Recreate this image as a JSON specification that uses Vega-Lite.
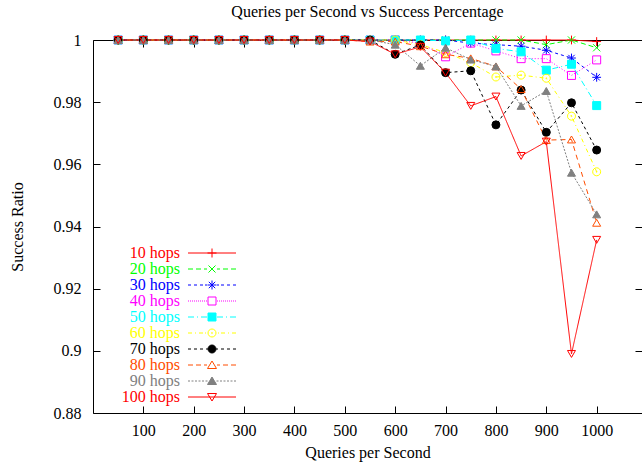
{
  "$schema": "https://vega.github.io/schema/vega-lite/v6.json",
  "width": 549,
  "height": 373,
  "autosize": {"type": "none"},
  "padding": {"left": 93, "top": 40, "right": 0, "bottom": 52},
  "background": "white",
  "config": {
    "view": {"stroke": "black", "strokeWidth": 1},
    "font": "Liberation Serif",
    "axis": {
      "domain": false, "grid": false, "ticks": true, "tickColor": "black", "tickSize": -7, "tickWidth": 1,
      "labelFont": "Liberation Serif", "labelFontSize": 16, "labelColor": "black",
      "titleFont": "Liberation Serif", "titleFontSize": 16, "titleFontWeight": "normal", "titleColor": "black"
    },
    "legend": {"labelFont": "Liberation Serif", "labelFontSize": 16}
  },
  "title": {"text": "Queries per Second vs Success Percentage", "font": "Liberation Serif", "fontSize": 16, "fontWeight": "normal", "color": "black", "anchor": "middle", "frame": "group", "baseline": "alphabetic", "offset": -1},
  "data": {"values": [
    {"q":50,"s":"10 hops","r":1},{"q":100,"s":"10 hops","r":1},{"q":150,"s":"10 hops","r":1},{"q":200,"s":"10 hops","r":1},{"q":250,"s":"10 hops","r":1},{"q":300,"s":"10 hops","r":1},{"q":350,"s":"10 hops","r":1},{"q":400,"s":"10 hops","r":1},{"q":450,"s":"10 hops","r":1},{"q":500,"s":"10 hops","r":1},{"q":550,"s":"10 hops","r":1},{"q":600,"s":"10 hops","r":1},{"q":650,"s":"10 hops","r":1},{"q":700,"s":"10 hops","r":1},{"q":750,"s":"10 hops","r":1},{"q":800,"s":"10 hops","r":1},{"q":850,"s":"10 hops","r":1},{"q":900,"s":"10 hops","r":1},{"q":950,"s":"10 hops","r":1},{"q":1000,"s":"10 hops","r":0.9995},
    {"q":50,"s":"20 hops","r":1},{"q":100,"s":"20 hops","r":1},{"q":150,"s":"20 hops","r":1},{"q":200,"s":"20 hops","r":1},{"q":250,"s":"20 hops","r":1},{"q":300,"s":"20 hops","r":1},{"q":350,"s":"20 hops","r":1},{"q":400,"s":"20 hops","r":1},{"q":450,"s":"20 hops","r":1},{"q":500,"s":"20 hops","r":1},{"q":550,"s":"20 hops","r":1},{"q":600,"s":"20 hops","r":1},{"q":650,"s":"20 hops","r":1},{"q":700,"s":"20 hops","r":1},{"q":750,"s":"20 hops","r":1},{"q":800,"s":"20 hops","r":1},{"q":850,"s":"20 hops","r":1},{"q":900,"s":"20 hops","r":0.9985},{"q":950,"s":"20 hops","r":1},{"q":1000,"s":"20 hops","r":0.9975},
    {"q":50,"s":"30 hops","r":1},{"q":100,"s":"30 hops","r":1},{"q":150,"s":"30 hops","r":1},{"q":200,"s":"30 hops","r":1},{"q":250,"s":"30 hops","r":1},{"q":300,"s":"30 hops","r":1},{"q":350,"s":"30 hops","r":1},{"q":400,"s":"30 hops","r":1},{"q":450,"s":"30 hops","r":1},{"q":500,"s":"30 hops","r":1},{"q":550,"s":"30 hops","r":1},{"q":600,"s":"30 hops","r":1},{"q":650,"s":"30 hops","r":1},{"q":700,"s":"30 hops","r":1},{"q":750,"s":"30 hops","r":0.999},{"q":800,"s":"30 hops","r":0.9985},{"q":850,"s":"30 hops","r":0.998},{"q":900,"s":"30 hops","r":0.9967},{"q":950,"s":"30 hops","r":0.9942},{"q":1000,"s":"30 hops","r":0.988},
    {"q":50,"s":"40 hops","r":1},{"q":100,"s":"40 hops","r":1},{"q":150,"s":"40 hops","r":1},{"q":200,"s":"40 hops","r":1},{"q":250,"s":"40 hops","r":1},{"q":300,"s":"40 hops","r":1},{"q":350,"s":"40 hops","r":1},{"q":400,"s":"40 hops","r":1},{"q":450,"s":"40 hops","r":1},{"q":500,"s":"40 hops","r":1},{"q":550,"s":"40 hops","r":1},{"q":600,"s":"40 hops","r":1},{"q":650,"s":"40 hops","r":0.999},{"q":700,"s":"40 hops","r":0.9946},{"q":750,"s":"40 hops","r":0.999},{"q":800,"s":"40 hops","r":0.9965},{"q":850,"s":"40 hops","r":0.994},{"q":900,"s":"40 hops","r":0.994},{"q":950,"s":"40 hops","r":0.9886},{"q":1000,"s":"40 hops","r":0.9936},
    {"q":50,"s":"50 hops","r":1},{"q":100,"s":"50 hops","r":1},{"q":150,"s":"50 hops","r":1},{"q":200,"s":"50 hops","r":1},{"q":250,"s":"50 hops","r":1},{"q":300,"s":"50 hops","r":1},{"q":350,"s":"50 hops","r":1},{"q":400,"s":"50 hops","r":1},{"q":450,"s":"50 hops","r":1},{"q":500,"s":"50 hops","r":1},{"q":550,"s":"50 hops","r":1},{"q":600,"s":"50 hops","r":1},{"q":650,"s":"50 hops","r":1},{"q":700,"s":"50 hops","r":0.9997},{"q":750,"s":"50 hops","r":1},{"q":800,"s":"50 hops","r":0.9973},{"q":850,"s":"50 hops","r":0.9962},{"q":900,"s":"50 hops","r":0.9903},{"q":950,"s":"50 hops","r":0.9922},{"q":1000,"s":"50 hops","r":0.9789},
    {"q":50,"s":"60 hops","r":1},{"q":100,"s":"60 hops","r":1},{"q":150,"s":"60 hops","r":1},{"q":200,"s":"60 hops","r":1},{"q":250,"s":"60 hops","r":1},{"q":300,"s":"60 hops","r":1},{"q":350,"s":"60 hops","r":1},{"q":400,"s":"60 hops","r":1},{"q":450,"s":"60 hops","r":1},{"q":500,"s":"60 hops","r":1},{"q":550,"s":"60 hops","r":1},{"q":600,"s":"60 hops","r":1},{"q":650,"s":"60 hops","r":0.9985},{"q":700,"s":"60 hops","r":0.996},{"q":750,"s":"60 hops","r":0.9927},{"q":800,"s":"60 hops","r":0.9881},{"q":850,"s":"60 hops","r":0.9887},{"q":900,"s":"60 hops","r":0.9877},{"q":950,"s":"60 hops","r":0.9755},{"q":1000,"s":"60 hops","r":0.9576},
    {"q":50,"s":"70 hops","r":1},{"q":100,"s":"70 hops","r":1},{"q":150,"s":"70 hops","r":1},{"q":200,"s":"70 hops","r":1},{"q":250,"s":"70 hops","r":1},{"q":300,"s":"70 hops","r":1},{"q":350,"s":"70 hops","r":1},{"q":400,"s":"70 hops","r":1},{"q":450,"s":"70 hops","r":1},{"q":500,"s":"70 hops","r":1},{"q":550,"s":"70 hops","r":1},{"q":600,"s":"70 hops","r":0.9954},{"q":650,"s":"70 hops","r":0.9984},{"q":700,"s":"70 hops","r":0.9895},{"q":750,"s":"70 hops","r":0.9901},{"q":800,"s":"70 hops","r":0.9727},{"q":850,"s":"70 hops","r":0.9839},{"q":900,"s":"70 hops","r":0.9703},{"q":950,"s":"70 hops","r":0.9798},{"q":1000,"s":"70 hops","r":0.9646},
    {"q":50,"s":"80 hops","r":1},{"q":100,"s":"80 hops","r":1},{"q":150,"s":"80 hops","r":1},{"q":200,"s":"80 hops","r":1},{"q":250,"s":"80 hops","r":1},{"q":300,"s":"80 hops","r":1},{"q":350,"s":"80 hops","r":1},{"q":400,"s":"80 hops","r":1},{"q":450,"s":"80 hops","r":1},{"q":500,"s":"80 hops","r":1},{"q":550,"s":"80 hops","r":0.9995},{"q":600,"s":"80 hops","r":0.9995},{"q":650,"s":"80 hops","r":0.998},{"q":700,"s":"80 hops","r":0.9954},{"q":750,"s":"80 hops","r":0.9941},{"q":800,"s":"80 hops","r":0.9915},{"q":850,"s":"80 hops","r":0.9842},{"q":900,"s":"80 hops","r":0.9678},{"q":950,"s":"80 hops","r":0.968},{"q":1000,"s":"80 hops","r":0.9412},
    {"q":50,"s":"90 hops","r":1},{"q":100,"s":"90 hops","r":1},{"q":150,"s":"90 hops","r":1},{"q":200,"s":"90 hops","r":1},{"q":250,"s":"90 hops","r":1},{"q":300,"s":"90 hops","r":1},{"q":350,"s":"90 hops","r":1},{"q":400,"s":"90 hops","r":1},{"q":450,"s":"90 hops","r":1},{"q":500,"s":"90 hops","r":1},{"q":550,"s":"90 hops","r":1},{"q":600,"s":"90 hops","r":0.9985},{"q":650,"s":"90 hops","r":0.9917},{"q":700,"s":"90 hops","r":0.9975},{"q":750,"s":"90 hops","r":0.9937},{"q":800,"s":"90 hops","r":0.9915},{"q":850,"s":"90 hops","r":0.9788},{"q":900,"s":"90 hops","r":0.9836},{"q":950,"s":"90 hops","r":0.9573},{"q":1000,"s":"90 hops","r":0.9439},
    {"q":50,"s":"100 hops","r":1},{"q":100,"s":"100 hops","r":1},{"q":150,"s":"100 hops","r":1},{"q":200,"s":"100 hops","r":1},{"q":250,"s":"100 hops","r":1},{"q":300,"s":"100 hops","r":1},{"q":350,"s":"100 hops","r":1},{"q":400,"s":"100 hops","r":1},{"q":450,"s":"100 hops","r":1},{"q":500,"s":"100 hops","r":1},{"q":550,"s":"100 hops","r":0.9995},{"q":600,"s":"100 hops","r":0.9954},{"q":650,"s":"100 hops","r":0.9978},{"q":700,"s":"100 hops","r":0.9895},{"q":750,"s":"100 hops","r":0.9788},{"q":800,"s":"100 hops","r":0.9818},{"q":850,"s":"100 hops","r":0.9627},{"q":900,"s":"100 hops","r":0.9673},{"q":950,"s":"100 hops","r":0.899},{"q":1000,"s":"100 hops","r":0.9357}
  ]},
  "layer": [
    {
      "mark": {"type": "line", "strokeWidth": 1},
      "encoding": {
        "x": {"field": "q", "type": "quantitative", "scale": {"domain": [0, 1090], "nice": false, "zero": false},
              "axis": {"orient": "bottom", "title": "Queries per Second", "values": [100,200,300,400,500,600,700,800,900,1000], "format": "d", "labelPadding": 16, "titlePadding": 6}},
        "y": {"field": "r", "type": "quantitative", "scale": {"domain": [0.88, 1], "nice": false, "zero": false},
              "axis": {"orient": "left", "title": "Success Ratio", "values": [0.88,0.9,0.92,0.94,0.96,0.98,1], "format": "~g", "labelPadding": 19, "titlePadding": 28}},
        "stroke": {"field": "s", "type": "nominal", "legend": null,
                   "scale": {"domain": ["10 hops","20 hops","30 hops","40 hops","50 hops","60 hops","70 hops","80 hops","90 hops","100 hops"],
                             "range": ["#ff0000","#00ff00","#0000ff","#ff00ff","#00ffff","#ffff00","#000000","#ff4d00","#808080","#ff0000"]}},
        "strokeDash": {"field": "s", "type": "nominal", "legend": null,
                   "scale": {"domain": ["10 hops","20 hops","30 hops","40 hops","50 hops","60 hops","70 hops","80 hops","90 hops","100 hops"],
                             "range": [[1,0],[5,3],[3,3],[1,2],[6,3,1,3],[4,3,1,3],[3,3],[5,4],[2,1.5],[1,0]]}}
      }
    },
    {
      "mark": {"type": "point", "opacity": 1, "strokeWidth": 1, "size": 64},
      "encoding": {
        "x": {"field": "q", "type": "quantitative", "scale": {"domain": [0, 1090], "nice": false, "zero": false},
              "axis": {"orient": "top", "title": null, "labels": false, "values": [100,200,300,400,500,600,700,800,900,1000]}},
        "y": {"field": "r", "type": "quantitative", "scale": {"domain": [0.88, 1], "nice": false, "zero": false},
              "axis": {"orient": "right", "title": null, "labels": false, "values": [0.88,0.9,0.92,0.94,0.96,0.98,1]}},
        "stroke": {"field": "s", "type": "nominal",
                   "scale": {"domain": ["10 hops","20 hops","30 hops","40 hops","50 hops","60 hops","70 hops","80 hops","90 hops","100 hops"],
                             "range": ["#ff0000","#00ff00","#0000ff","#ff00ff","#00ffff","#ffff00","#000000","#ff4d00","#808080","#ff0000"]},
                   "legend": {
                     "orient": "none", "legendX": 111, "legendY": 205, "direction": "vertical", "title": null,
                     "padding": 0, "rowPadding": 0,
                     "symbolSize": 4, "symbolStrokeWidth": 1, "symbolOpacity": 1,
                     "labelFont": "Liberation Serif", "labelFontSize": 16, "labelAlign": "right", "labelBaseline": "middle", "labelOffset": -40,
                     "symbolType": {"expr": "['M-24,0H24M-4.5,0H4.5M0,-4.5V4.5','M-24,0H-19M-16,0H-11M-8,0H-5M5,0H8M11,0H16M19,0H24M-3.5,-3.5L3.5,3.5M-3.5,3.5L3.5,-3.5','M-24,0H-21M-18,0H-15M-12,0H-9M-7,0H-5M5,0H7M9,0H12M15,0H18M21,0H24M-4.5,0H4.5M0,-4.5V4.5M-3.2,-3.2L3.2,3.2M-3.2,3.2L3.2,-3.2','M-24,0H-23M-22,0H-21M-20,0H-19M-18,0H-17M-16,0H-15M-14,0H-13M-12,0H-11M-10,0H-9M-8,0H-7M-6,0H-5M5,0H6M7,0H8M9,0H10M11,0H12M13,0H14M15,0H16M17,0H18M19,0H20M21,0H22M23,0H24M-4,-4H4V4H-4Z','M-24,0H-18M-15,0H-14M-11,0H-5M5,0H11M14,0H15M18,0H24M-4,-4H4V4H-4Z','M-24,0H-20M-17,0H-16M-13,0H-9M-7,0H-6M6,0H7M9,0H13M16,0H17M20,0H24M4,0A4,4,0,1,1,-4,0A4,4,0,1,1,4,0ZM0.5,0A0.5,0.5,0,1,1,-0.5,0A0.5,0.5,0,1,1,0.5,0Z','M-24,0H-21M-18,0H-15M-12,0H-9M-6,0H-4M4,0H6M9,0H12M15,0H18M21,0H24M4,0A4,4,0,1,1,-4,0A4,4,0,1,1,4,0Z','M-24,0H-19M-16,0H-11M-8,0H-5M5,0H8M11,0H16M19,0H24M0,-4L-4.5,3.5H4.5Z','M-24,0H-22M-20.5,0H-18.5M-17,0H-15M-13.5,0H-11.5M-10,0H-8M-6.5,0H-4.5M4.5,0H6.5M8,0H10M11.5,0H13.5M15,0H17M18.5,0H20.5M22,0H24M0,-4L-4.5,3.5H4.5Z','M-24,0H24M0,4L-4.5,-3.5H4.5Z'][indexof(['10 hops','20 hops','30 hops','40 hops','50 hops','60 hops','70 hops','80 hops','90 hops','100 hops'], datum.label)]"},
                     "symbolFillColor": {"expr": "['transparent','transparent','transparent','transparent','#00ffff','transparent','#000000','transparent','#808080','transparent'][indexof(['10 hops','20 hops','30 hops','40 hops','50 hops','60 hops','70 hops','80 hops','90 hops','100 hops'], datum.label)]"},
                     "labelColor": {"expr": "['#ff0000','#00ff00','#0000ff','#ff00ff','#00ffff','#ffff00','#000000','#ff4d00','#808080','#ff0000'][indexof(['10 hops','20 hops','30 hops','40 hops','50 hops','60 hops','70 hops','80 hops','90 hops','100 hops'], datum.label)]"}
                   }},
        "fill": {"field": "s", "type": "nominal", "legend": null,
                 "scale": {"domain": ["10 hops","20 hops","30 hops","40 hops","50 hops","60 hops","70 hops","80 hops","90 hops","100 hops"],
                           "range": ["transparent","transparent","transparent","transparent","#00ffff","transparent","#000000","transparent","#808080","transparent"]}},
        "shape": {"field": "s", "type": "nominal", "legend": null,
                  "scale": {"domain": ["10 hops","20 hops","30 hops","40 hops","50 hops","60 hops","70 hops","80 hops","90 hops","100 hops"],
                            "range": ["M-1.1,0H1.1M0,-1.1V1.1","M-0.9,-0.9L0.9,0.9M-0.9,0.9L0.9,-0.9","M-1.1,0H1.1M0,-1.1V1.1M-0.8,-0.8L0.8,0.8M-0.8,0.8L0.8,-0.8","square","square","M1,0A1,1,0,1,1,-1,0A1,1,0,1,1,1,0ZM0.12,0A0.12,0.12,0,1,1,-0.12,0A0.12,0.12,0,1,1,0.12,0Z","circle","triangle-up","triangle-up","triangle-down"]}}
      }
    }
  ],
  "resolve": {"axis": {"x": "independent", "y": "independent"}, "legend": {"stroke": "independent"}}
}
